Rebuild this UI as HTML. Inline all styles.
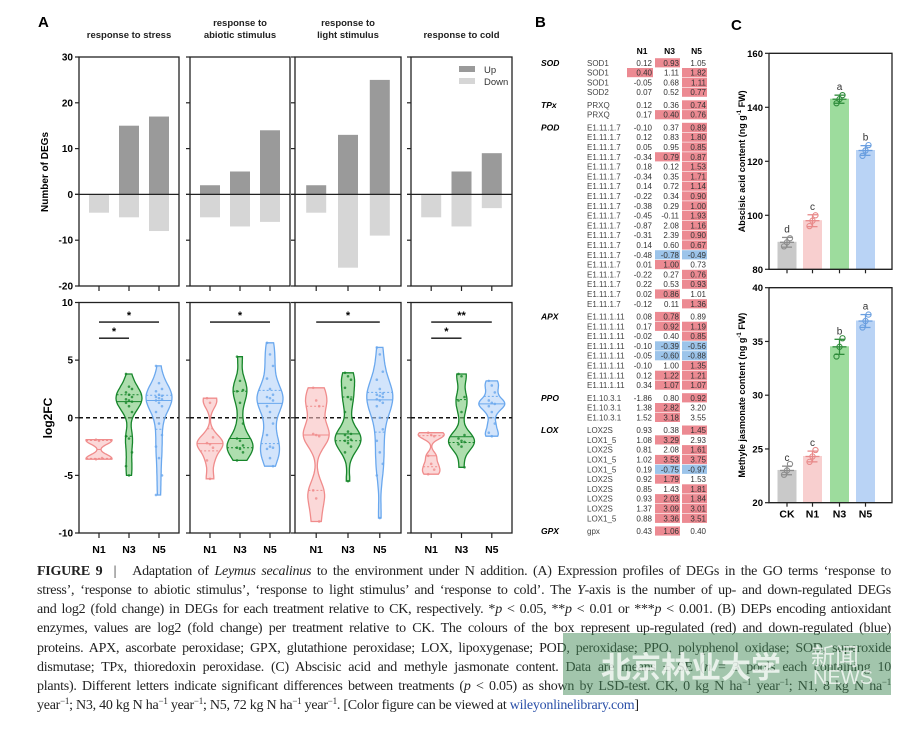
<!DOCTYPE html>
<html><head><meta charset="utf-8"><style>
body{margin:0;background:#fff;width:909px;height:729px;overflow:hidden;position:relative;font-family:"Liberation Sans",sans-serif}
svg{position:absolute;left:0;top:0}
.cap{position:absolute;left:37px;width:854px;font-family:"Liberation Serif",serif;font-size:14px;line-height:18px;height:18px;color:#222;text-align:justify;text-align-last:justify;white-space:nowrap;letter-spacing:-0.25px}
.cap sup{font-size:9px;line-height:0;vertical-align:5px}
.cap.last{text-align-last:left}
</style></head><body>
<svg id="fig" width="909" height="729" font-family="Liberation Sans, sans-serif"></svg>
<div class="cap" style="top:563px"><b>FIGURE 9</b> &nbsp;| &nbsp; Adaptation of <i>Leymus secalinus</i> to the environment under N addition. (A) Expression profiles of DEGs in the GO terms ‘response to</div>
<div class="cap" style="top:582px">stress’, ‘response to abiotic stimulus’, ‘response to light stimulus’ and ‘response to cold’. The <i>Y</i>-axis is the number of up- and down-regulated DEGs</div>
<div class="cap" style="top:601px">and log2 (fold change) in DEGs for each treatment relative to CK, respectively. *<i>p</i> &lt; 0.05, **<i>p</i> &lt; 0.01 or ***<i>p</i> &lt; 0.001. (B) DEPs encoding antioxidant</div>
<div class="cap" style="top:620px">enzymes, values are log2 (fold change) per treatment relative to CK. The colours of the box represent up-regulated (red) and down-regulated (blue)</div>
<div class="cap" style="top:640px">proteins. APX, ascorbate peroxidase; GPX, glutathione peroxidase; LOX, lipoxygenase; POD, peroxidase; PPO, polyphenol oxidase; SOD, superoxide</div>
<div class="cap" style="top:659px">dismutase; TPx, thioredoxin peroxidase. (C) Abscisic acid and methyle jasmonate content. Data are means ± SE (<i>n</i> = 3 pools each containing 10</div>
<div class="cap" style="top:678px">plants). Different letters indicate significant differences between treatments (<i>p</i> &lt; 0.05) as shown by LSD-test. CK, 0 kg N ha<sup>−1</sup> year<sup>−1</sup>; N1, 8 kg N ha<sup>−1</sup></div>
<div class="cap last" style="top:697px">year<sup>−1</sup>; N3, 40 kg N ha<sup>−1</sup> year<sup>−1</sup>; N5, 72 kg N ha<sup>−1</sup> year<sup>−1</sup>. [Color figure can be viewed at <span style="color:#2a4fa8">wileyonlinelibrary.com</span>]</div>
<div style="position:absolute;left:563px;top:633px;width:328px;height:62px;background:rgba(70,140,90,0.5);color:rgba(255,255,255,0.75);font-family:'Liberation Sans','Noto Sans CJK SC',sans-serif">
<span style="position:absolute;left:38px;top:10px;font-size:30px;font-weight:bold">北京林业大学</span>
<span style="position:absolute;left:248px;top:4px;font-size:24px">新闻</span>
<span style="position:absolute;left:250px;top:34px;font-size:20px">NEWS</span>
</div>
<script>
// ---------- Panel A data ----------
const goTerms = ["response to stress","response to abiotic stimulus","response to light stimulus","response to cold"];
const treatments = ["N1","N3","N5"];
const upCounts = [[0,15,17],[2,5,14],[2,13,25],[0,5,9]];
const downCounts = [[-4,-5,-8],[-5,-7,-6],[-4,-16,-9],[-5,-7,-3]];
const degTicks = [30,20,10,0,-10,-20];
const fcTicks = [10,5,0,-5,-10];
const vP1 = [[-1.9,-2.0,-3.5,-3.6],[3.8,2.7,2.5,2.2,2.0,1.8,1.6,1.5,1.4,1.3,1.0,0.5,-1.6,-1.8,-3,-4.2,-5.0],[4.5,3,2.5,2.3,2.0,1.9,1.8,1.7,1.6,1.5,1.3,1.0,0.5,-0.5,-1.5,-2.5,-3.5,-5,-6.7]];
const vP2 = [[1.7,1.3,-1.7,-2.2,-2.3,-2.6,-3.7,-5.3],[5.3,3.2,2.4,2.3,1.3,-0.5,-1.8,-2.0,-2.4,-2.6,-2.7,-3.0,-3.7],[6.5,5.5,4.5,3.4,2.5,2.0,1.8,1.7,1.5,1.0,0.5,-0.5,-1.5,-2.5,-2.6,-2.7,-3.5,-4.2]];
const vP3 = [[2.6,1.5,1.0,-1.4,-1.5,-1.6,-6.3,-7,-9],[3.9,3.6,3.3,2.6,1.8,1.6,0.5,-1.2,-1.4,-1.5,-1.7,-1.9,-2.0,-2.2,-2.5,-3.0,-5.5],[6.1,5.5,4,3.3,2.5,2.1,2.0,1.9,1.8,1.6,1.5,1.3,1.0,0,-1,-2,-3,-4,-5,-8.7]];
const vP4 = [[-1.3,-1.5,-1.6,-3.3,-4.0,-4.5,-4.9],[3.8,3.6,1.8,1.5,0.5,-1.5,-1.8,-2.0,-2.1,-2.3,-2.5,-4.3],[3.2,2.8,2.2,1.5,1.3,1.2,1.0,0.5,-0.5,-1.3,-1.6]];
const sigBars = [[[0,2,8.3,"*"],[0,1,6.9,"*"]],[[0,2,8.3,"*"]],[[0,2,8.3,"*"]],[[0,2,8.3,"**"],[0,1,6.9,"*"]]];
// ---------- Panel B data ----------
const groups = ["SOD","TPx","POD","APX","PPO","LOX","GPX"];
const groupSizes = [4,2,19,8,3,10,1];
const geneNames = ["SOD1","SOD1","SOD1","SOD2","PRXQ","PRXQ"].concat(Array(19).fill("E1.11.1.7"),Array(8).fill("E1.11.1.11"),Array(3).fill("E1.10.3.1"),["LOX2S","LOX1_5","LOX2S","LOX1_5","LOX1_5","LOX2S","LOX2S","LOX2S","LOX2S","LOX1_5","gpx"]);
const valN1 = [0.12,0.40,-0.05,0.07,0.12,0.17,-0.10,0.12,0.05,-0.34,0.18,-0.34,0.14,-0.22,-0.38,-0.45,-0.87,-0.31,0.14,-0.48,0.01,-0.22,0.22,0.02,-0.12,0.08,0.17,-0.02,-0.10,-0.05,-0.10,0.12,0.34,-1.86,1.38,1.52,0.93,1.08,0.81,1.02,0.19,0.92,0.85,0.93,1.37,0.88,0.43];
const valN3 = [0.93,1.11,0.68,0.52,0.36,0.40,0.37,0.83,0.95,0.79,0.12,0.35,0.72,0.34,0.29,-0.11,2.08,2.39,0.60,-0.78,1.00,0.27,0.53,0.86,0.11,0.78,0.92,0.40,-0.39,-0.60,1.00,1.22,1.07,0.80,2.82,3.18,0.38,3.29,2.08,3.53,-0.75,1.79,1.43,2.03,3.09,3.36,1.06];
const valN5 = [1.05,1.82,1.11,0.77,0.74,0.76,0.89,1.80,0.85,0.87,1.53,1.71,1.14,0.90,1.00,1.93,1.16,0.90,0.67,-0.49,0.73,0.76,0.93,1.01,1.36,0.89,1.19,0.85,-0.56,-0.88,1.35,1.21,1.07,0.92,3.20,3.55,1.45,2.93,1.61,3.75,-0.97,1.53,1.81,1.84,3.01,3.51,0.40];
const sigN1 = "01000000000000000000000000000000000000000000000";
const sigN3 = "1000010001"+"000000000"+"110010"+"11011011"+"011"+"01011101111";
const sigN5 = "0111111111111111111"+"101101"+"01111111"+"100"+"10111011110";
// ---------- Panel C data ----------
const hormCats = ["CK","N1","N3","N5"];
const abaMean = [90,98,143,124];
const abaErr = [1.8,2.2,1.5,1.8];
const abaLetters = ["d","c","a","b"];
const abaPts = [[88.5,90,91.5],[96,98,100],[141.5,143,144.5],[122,124,126]];
const mejaMean = [23.0,24.3,34.5,36.9];
const mejaErr = [0.4,0.5,0.7,0.6];
const mejaLetters = ["c","c","b","a"];
const mejaPts = [[22.6,23,23.6],[23.8,24.3,24.9],[33.6,34.5,35.3],[36.3,36.9,37.5]];

const NS="http://www.w3.org/2000/svg";
const svg=document.getElementById('fig');
function el(tag,attrs,parent,text){const e=document.createElementNS(NS,tag);for(const k in attrs)e.setAttribute(k,attrs[k]);if(text!==undefined)e.textContent=text;(parent||svg).appendChild(e);return e;}

// ---------- Panel A ----------
el('text',{x:38,y:27,'font-size':15,'font-weight':'bold',},svg,'A');
const boxesX=[[79,179],[190,290],[295,401],[411,512]];
const titleLines=[["response to stress"],["response to","abiotic stimulus"],["response to","light stimulus"],["response to cold"]];
const topY0=57, topY1=286, degMax=30, degMin=-20;
const yDeg=v=>topY0+(degMax-v)/(degMax-degMin)*(topY1-topY0);
const botY0=302.5, botY1=533;
const yFc=v=>botY0+(10-v)/20*(botY1-botY0);
const vColors=[["#f08c8c","rgba(248,190,190,0.6)"],["#17862b","rgba(120,200,120,0.6)"],["#6aa8ee","rgba(180,210,248,0.6)"]];
const violinSets=[vP1,vP2,vP3,vP4];
el('text',{x:0,y:0,'font-size':10,'font-weight':'bold',transform:'translate(48,172) rotate(-90)','text-anchor':'middle',},svg,'Number of DEGs');
el('text',{x:0,y:0,'font-size':12,'font-weight':'bold',transform:'translate(52,418) rotate(-90)','text-anchor':'middle',},svg,'log2FC');
function quant(a,q){const s=[...a].sort((x,y)=>x-y);const p=(s.length-1)*q;const i=Math.floor(p);return s[i]+(s[Math.min(i+1,s.length-1)]-s[i])*(p-i);}
goTerms.forEach((term,p)=>{
  const [x0,x1]=boxesX[p]; const w=x1-x0;
  const g=el('g',{});
  const tl=titleLines[p];
  tl.forEach((t,i)=>{el('text',{x:(x0+x1)/2,y:tl.length==1?38:26+i*12,'font-size':9.5,'font-weight':'bold','text-anchor':'middle','fill':'#222',},g,t);});
  const xc=i=>x0+w*(0.2+0.3*i);
  treatments.forEach((t,i)=>{
    const bw=20;
    if(upCounts[p][i]>0){const r=el('rect',{x:xc(i)-bw/2,y:yDeg(upCounts[p][i]),width:bw,height:yDeg(0)-yDeg(upCounts[p][i]),fill:'#9a9a9a'},g);}
    const r2=el('rect',{x:xc(i)-bw/2,y:yDeg(0),width:bw,height:yDeg(downCounts[p][i])-yDeg(0),fill:'#d6d6d6'},g);
    
    
    el('line',{x1:xc(i),x2:xc(i),y1:topY1,y2:topY1+5,stroke:'#222','stroke-width':1.2},g);
    el('line',{x1:xc(i),x2:xc(i),y1:botY1,y2:botY1+5,stroke:'#222','stroke-width':1.2},g);
    el('text',{x:xc(i),y:553,'font-size':10.5,'font-weight':'bold','text-anchor':'middle',},g,t);
  });
  el('line',{x1:x0-4,x2:x1,y1:yDeg(0),y2:yDeg(0),stroke:'#222','stroke-width':1.2},g);
  el('rect',{x:x0,y:topY0,width:w,height:topY1-topY0,fill:'none',stroke:'#222','stroke-width':1.3},g);
  degTicks.forEach(v=>{el('line',{x1:x0-4,x2:x0,y1:yDeg(v),y2:yDeg(v),stroke:'#222','stroke-width':1.2},g);
    if(p==0)el('text',{x:x0-6,y:yDeg(v)+3.5,'font-size':10,'font-weight':'bold','text-anchor':'end',},g,v);});
  el('rect',{x:x0,y:botY0,width:w,height:botY1-botY0,fill:'none',stroke:'#222','stroke-width':1.3},g);
  fcTicks.forEach(v=>{el('line',{x1:x0-4,x2:x0,y1:yFc(v),y2:yFc(v),stroke:'#222','stroke-width':1.2},g);
    if(p==0)el('text',{x:x0-6,y:yFc(v)+3.5,'font-size':10,'font-weight':'bold','text-anchor':'end',},g,v);});
  el('line',{x1:x0,x2:x1,y1:yFc(0),y2:yFc(0),stroke:'#111','stroke-width':1.4,'stroke-dasharray':'4,3'},g);
  violinSets[p].forEach((pts,i)=>{
    const mn=Math.min(...pts),mx=Math.max(...pts);const rng=mx-mn;const h=Math.max(0.35,rng*0.09);
    const N=50;const dens=[];for(let k=0;k<=N;k++){const y=mn+rng*k/N;let d=0;pts.forEach(v=>d+=Math.exp(-0.5*((y-v)/h)**2));dens.push([y,d]);}
    const dm=Math.max(...dens.map(d=>d[1]));const hw=13;
    let dL='',dR='';
    dens.forEach(([y,d],k)=>{const xx=hw*d/dm;dL+=(k?'L':'M')+(xc(i)-xx).toFixed(1)+','+yFc(y).toFixed(1);});
    for(let k=N;k>=0;k--){const [y,d]=dens[k];dR+='L'+(xc(i)+hw*d/dm).toFixed(1)+','+yFc(y).toFixed(1);}
    const path=el('path',{d:dL+dR+'Z',fill:vColors[i][1],stroke:vColors[i][0],'stroke-width':1.3},g);
    
    
    const wAt=y=>{let d=0;pts.forEach(v=>d+=Math.exp(-0.5*((y-v)/h)**2));return hw*d/dm;};
    [[0.5,''],[0.25,'2,2'],[0.75,'2,2']].forEach(([q,da])=>{const y=quant(pts,q);const xx=wAt(y);el('line',{x1:xc(i)-xx,x2:xc(i)+xx,y1:yFc(y),y2:yFc(y),stroke:vColors[i][0],'stroke-width':1,'stroke-dasharray':da},g);});
    pts.forEach((v,k)=>{el('circle',{cx:xc(i)+((k%3)-1)*3,cy:yFc(v),r:1.3,fill:vColors[i][0],opacity:0.8},g);});
  });
  sigBars[p].forEach(([a,b,y,s])=>{el('line',{x1:xc(a),x2:xc(b),y1:yFc(y),y2:yFc(y),stroke:'#111','stroke-width':1.4},g);
    el('text',{x:(xc(a)+xc(b))/2,y:yFc(y)-3,'font-size':11,'font-weight':'bold','text-anchor':'middle',},g,s);});
});
const lg=el('g',{});
el('rect',{x:459,y:66,width:16,height:6,fill:'#9a9a9a'},lg);el('text',{x:484,y:73,'font-size':9.5,fill:'#333'},lg,'Up');
el('rect',{x:459,y:78,width:16,height:6,fill:'#d6d6d6'},lg);el('text',{x:484,y:85,'font-size':9.5,fill:'#333'},lg,'Down');

// ---------- Panel B ----------
el('text',{x:535,y:27,'font-size':15,'font-weight':'bold',},svg,'B');
const hb=el('g',{});
const colX=[[627,653],[655,680],[682,707]];
["N1","N3","N5"].forEach((t,j)=>el('text',{x:(colX[j][0]+colX[j][1])/2+2,y:54,'font-size':8.5,'font-weight':'bold','text-anchor':'middle',},hb,t));
const rowH=9.8,gapH=2.9,rowY0=62.8;
let ri=0;
groups.forEach((gname,gi)=>{
  for(let k=0;k<groupSizes[gi];k++){
    const cy=rowY0+ri*rowH+gi*gapH;
    if(k==0)el('text',{x:541,y:cy+3,'font-size':8.5,'font-weight':'bold','font-style':'italic',},hb,gname);
    el('text',{x:587,y:cy+3,'font-size':8,fill:'#444',},hb,geneNames[ri]);
    [[valN1,sigN1],[valN3,sigN3],[valN5,sigN5]].forEach(([vals,sig],j)=>{
      const v=vals[ri];
      if(sig[ri]=='1'){const c=el('rect',{x:colX[j][0],y:cy-4.6,width:colX[j][1]-colX[j][0],height:9.2,fill:v>0?'#ec8a92':'#9cc4ea'},hb);
        
        }
      el('text',{x:colX[j][1]-1,y:cy+3,'font-size':8,'text-anchor':'end',fill:'#333',},hb,v.toFixed(2));
    });
    ri++;
  }
});

// ---------- Panel C ----------
el('text',{x:731,y:30,'font-size':15,'font-weight':'bold',},svg,'C');
const cX0=769,cX1=892;const catX=[787,812.5,839.5,865.5];
const barFill=['#c9c9c9','#f8cfcf','#9ddc9d','#b9d3f5'];const barEdge=['#8d8d8d','#e88a8a','#2e8b3a','#6a9fe0'];
function hormPlot(name,yTop,yBot,vmin,vmax,ticks,means,errs,letters,pts,title,showCats){
  const g=el('g',{});
  const yv=v=>yTop+(vmax-v)/(vmax-vmin)*(yBot-yTop);
  means.forEach((m,i)=>{
    const r=el('rect',{x:catX[i]-9,y:yv(m),width:18,height:yBot-yv(m),fill:barFill[i],stroke:barFill[i]},g);
    
    
    el('line',{x1:catX[i],x2:catX[i],y1:yv(m-errs[i]),y2:yv(m+errs[i]),stroke:barEdge[i],'stroke-width':1.3},g);
    [m-errs[i],m+errs[i]].forEach(v=>el('line',{x1:catX[i]-5,x2:catX[i]+5,y1:yv(v),y2:yv(v),stroke:barEdge[i],'stroke-width':1.3},g));
    el('line',{x1:catX[i]-7,x2:catX[i]+7,y1:yv(m),y2:yv(m),stroke:barEdge[i],'stroke-width':1.3},g);
    pts[i].forEach((v,k)=>el('circle',{cx:catX[i]+(k==1?0:(k==0?-3:3)),cy:yv(v),r:2.6,fill:'none',stroke:barEdge[i],'stroke-width':1.1},g));
    el('text',{x:catX[i],y:yv(m+errs[i])-5,'font-size':10,'text-anchor':'middle',fill:'#333',},g,letters[i]);
    el('line',{x1:catX[i],x2:catX[i],y1:yBot,y2:yBot+4,stroke:'#222','stroke-width':1.2},g);
    if(showCats)el('text',{x:catX[i],y:yBot+15,'font-size':10.5,'font-weight':'bold','text-anchor':'middle',},g,hormCats[i]);
  });
  el('polyline',{points:`${cX0},${yTop} ${cX0},${yBot} ${cX1},${yBot} ${cX1},${yTop} ${cX0},${yTop}`,fill:'none',stroke:'#222','stroke-width':1.3},g);
  ticks.forEach(v=>{el('line',{x1:cX0-4,x2:cX0,y1:yv(v),y2:yv(v),stroke:'#222','stroke-width':1.2},g);
    el('text',{x:cX0-6,y:yv(v)+3.5,'font-size':9.5,'font-weight':'bold','text-anchor':'end',},g,v);});
  const t=el('text',{x:0,y:0,'font-size':9,'font-weight':'bold','text-anchor':'middle',transform:`translate(745,${(yTop+yBot)/2}) rotate(-90)`,},g);
  t.innerHTML=title+' (ng g<tspan dy="-4" font-size="6">-1</tspan><tspan dy="4"> FW)</tspan>';
}
hormPlot('aba-chart',53.3,269.3,80,160,[80,100,120,140,160],abaMean,abaErr,abaLetters,abaPts,'Abscisic acid content',false);
hormPlot('meja-chart',287.7,502.7,20,40,[20,25,30,35,40],mejaMean,mejaErr,mejaLetters,mejaPts,'Methyle jasmonate content',true);
</script>
</body></html>
